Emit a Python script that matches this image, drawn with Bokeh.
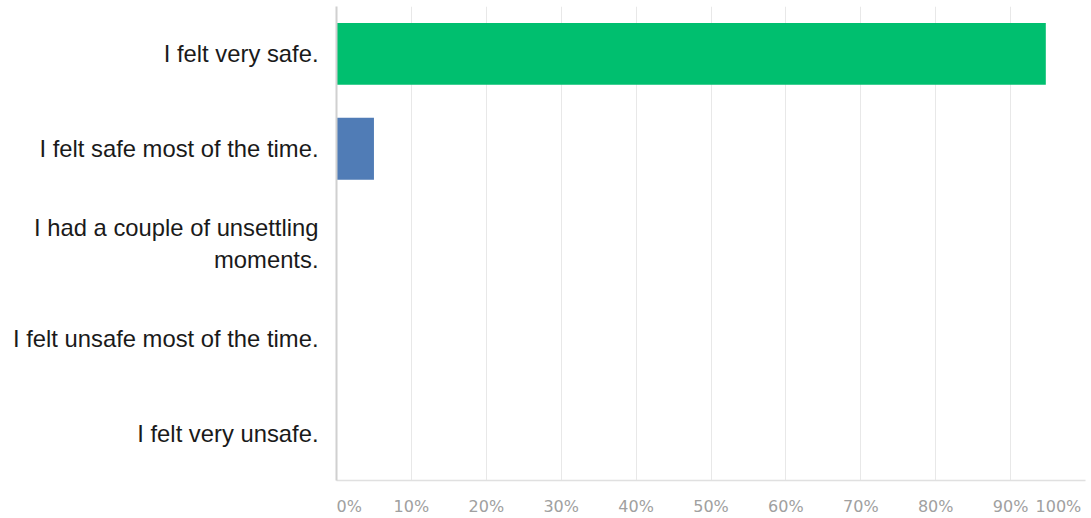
from bokeh.plotting import figure
from bokeh.models import FactorRange, FixedTicker
from bokeh.embed import file_html
from bokeh.resources import INLINE

categories = [
    "I felt very safe.",
    "I felt safe most of the time.",
    "I had a couple of unsettling\nmoments.",
    "I felt unsafe most of the time.",
    "I felt very unsafe.",
]
percent = [94.7, 5.0, 0.0, 0.0, 0.0]
bar_colors = ["#00BF6F", "#507CB6", "#F9BE00", "#6BC8CD", "#F05B24"]
x_ticks = [0, 10, 20, 30, 40, 50, 60, 70, 80, 90, 100]
x_tick_labels = ["%d%%" % t for t in x_ticks]

NB = "\u00a0"
overrides = {t: lab for t, lab in zip(x_ticks, x_tick_labels)}
overrides[0] = NB * 5 + overrides[0]
overrides[100] = overrides[100] + NB * 2

p = figure(
    width=1091, height=518,
    y_range=FactorRange(factors=list(reversed(categories)), range_padding=0),
    x_range=(0, 100),
    output_backend="svg", toolbar_location=None,
    min_border_left=336, min_border_right=6, min_border_top=6, min_border_bottom=30,
)
p.outline_line_color = None
p.background_fill_color = "white"

p.hbar(y=categories, right=percent, left=0, height=0.653,
       fill_color=bar_colors, line_color=None)

p.xaxis.ticker = FixedTicker(ticks=x_ticks)
p.xaxis.major_label_overrides = overrides
p.xaxis.major_tick_line_color = None
p.xaxis.minor_tick_line_color = None
p.xaxis.axis_line_color = "#e0e0e0"
p.xaxis.axis_line_width = 1.5
p.xaxis.major_label_text_font = "DejaVu Sans"
p.xaxis.major_label_text_font_size = "16px"
p.xaxis.major_label_text_color = "#a0a0a0"
p.xaxis.major_label_standoff = 10

p.yaxis.major_tick_line_color = None
p.yaxis.minor_tick_line_color = None
p.yaxis.axis_line_color = "#d0d0d0"
p.yaxis.axis_line_width = 2
p.yaxis.major_label_text_font = "Liberation Sans"
p.yaxis.major_label_text_font_size = "23.8px"
p.yaxis.major_label_text_color = "#1a1a1a"
p.yaxis.major_label_standoff = 12
p.yaxis.major_label_text_line_height = 1.2

p.xgrid.grid_line_color = "#e8e8e8"
p.xgrid.grid_line_width = 1
p.ygrid.grid_line_color = None

open("out.html", "w").write(file_html(p, INLINE))
